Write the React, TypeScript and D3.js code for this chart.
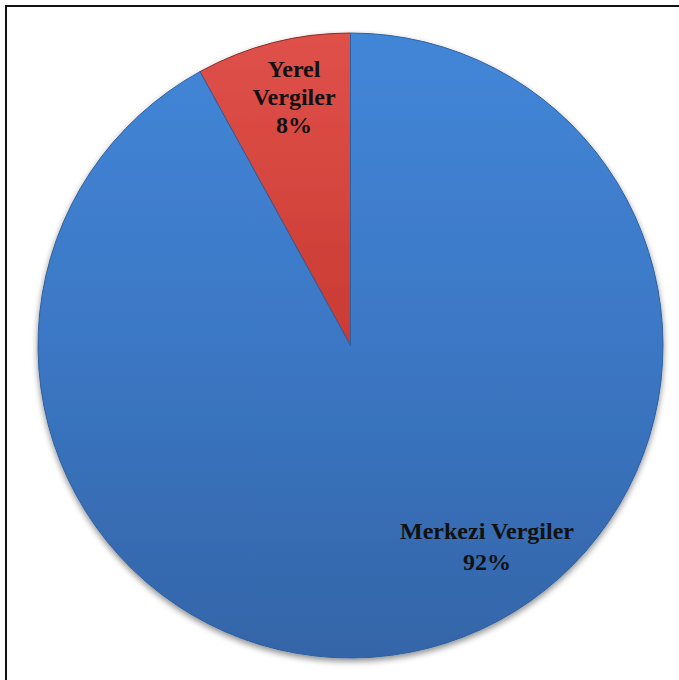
import React from "react";
import * as d3 from "d3";

const categories = ["Yerel Vergiler", "Merkezi Vergiler"];
const values = [8, 92];
const labelLines = [["Yerel", "Vergiler", "8%"], ["Merkezi Vergiler", "92%"]];

const W = 679, H = 680;
const cx = 350.5, cy = 345.5, R = 312.5;

export default function App() {
  const pie = d3.pie<number>().sort(null).startAngle(-2 * Math.PI * values[0] / 100).endAngle(2 * Math.PI - 2 * Math.PI * values[0] / 100);
  const arcs = pie(values);
  const arc = d3.arc<d3.PieArcDatum<number>>().innerRadius(0).outerRadius(R);
  const fills = ["url(#gRed)", "url(#gBlue)"];
  const strokes = ["#8a2a24", "#2f5f9e"];
  const labelPos: [number, number][] = [[294, 77], [487, 539]];
  const lineH = [28, 31];
  return (
    <svg width={W} height={H} style={{ position: "absolute", left: 0, top: 0, background: "#fff" }}>
      <defs>
        <linearGradient id="gBlue" x1="0" y1="0" x2="0" y2="1">
          <stop offset="0" stopColor="#4386d8" />
          <stop offset="0.5" stopColor="#3b77c4" />
          <stop offset="1" stopColor="#3465a8" />
        </linearGradient>
        <linearGradient id="gRed" x1="0" y1="0" x2="0" y2="1">
          <stop offset="0" stopColor="#e0514a" />
          <stop offset="1" stopColor="#c93a33" />
        </linearGradient>
        <filter id="sh" x="-10%" y="-10%" width="120%" height="120%">
          <feGaussianBlur in="SourceAlpha" stdDeviation="3" />
          <feOffset dx="0" dy="3" result="b" />
          <feComponentTransfer><feFuncA type="linear" slope="0.45" /></feComponentTransfer>
          <feMerge><feMergeNode /><feMergeNode in="SourceGraphic" /></feMerge>
        </filter>
      </defs>
      <rect x={6} y={6} width={W + 10} height={H + 10} fill="none" stroke="#111" strokeWidth={2} />
      <g transform={`translate(${cx},${cy})`} filter="url(#sh)">
        {arcs.map((a, i) => (
          <path key={categories[i]} d={arc(a) || ""} fill={fills[i]} stroke={strokes[i]} strokeWidth={1} />
        ))}
      </g>
      {labelLines.map((lines, i) => (
        <text key={categories[i]} x={labelPos[i][0]} y={labelPos[i][1]} textAnchor="middle"
          fontFamily="'Liberation Serif', 'DejaVu Serif', serif" fontWeight="bold" fontSize={24} fill="#111">
          {lines.map((l, j) => (
            <tspan key={j} x={labelPos[i][0]} dy={j === 0 ? 0 : lineH[i]}>{l}</tspan>
          ))}
        </text>
      ))}
    </svg>
  );
}
